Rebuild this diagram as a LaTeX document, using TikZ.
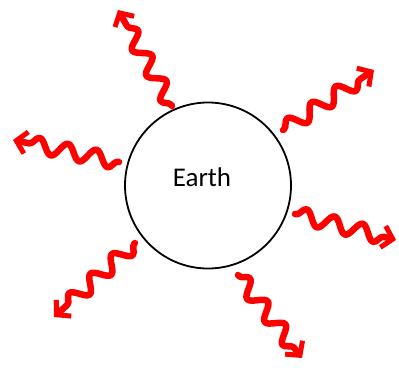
\documentclass[tikz,border=0pt]{standalone}
\usepackage{fontspec}
\setmainfont{Carlito}
\usetikzlibrary{decorations.pathmorphing,arrows.meta}
\begin{document}
\begin{tikzpicture}[x=1pt,y=-1pt,
  ray/.style={draw=red, line width=6.5pt, line cap=round, line join=round,
    -{Straight Barb[length=10pt,width=22pt,line width=5pt]},
    decorate, decoration={snake, amplitude=7.5pt, segment length=29pt, pre length=1pt, post length=11pt}}]
\useasboundingbox (0,0) rectangle (399,367);
\node[draw=black, line width=1.8pt, circle, minimum size=166pt, inner sep=0pt] (earth) at (208,185.5) {};
\node[font=\fontsize{27}{30}\selectfont] (lbl) at (202,177) {Earth};
\coordinate (s1) at (172,106); \coordinate (e1) at (118,10);
\coordinate (s2) at (283,130); \coordinate (e2) at (374,70);
\coordinate (s3) at (119,162); \coordinate (e3) at (13,140);
\coordinate (s4) at (295,214); \coordinate (e4) at (396,240);
\coordinate (s5) at (135,243); \coordinate (e5) at (54,317);
\coordinate (s6) at (238,275); \coordinate (e6) at (302,358);
\foreach \i in {1,...,6} \draw[ray] (s\i) -- (e\i);
\end{tikzpicture}
\end{document}
